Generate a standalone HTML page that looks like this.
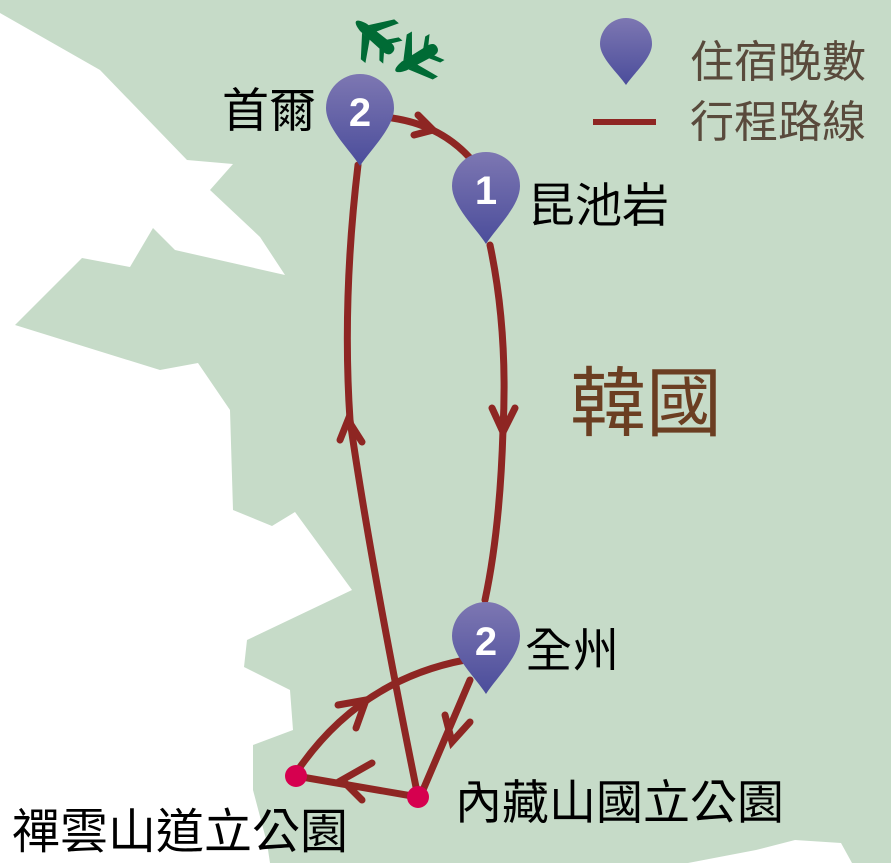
<!DOCTYPE html>
<html><head><meta charset="utf-8"><style>
body{margin:0;width:891px;height:863px;overflow:hidden;background:#c6dbc8}
svg{position:absolute;left:0;top:0}
text{font-family:"Liberation Sans","Noto Sans CJK TC",sans-serif}
</style></head><body>
<svg width="891" height="863" viewBox="0 0 891 863">
<defs>
<linearGradient id="pg" x1="0" y1="0" x2="0" y2="1"><stop offset="0" stop-color="#7d77b2"/><stop offset="1" stop-color="#4b4d9b"/></linearGradient>
<g id="pin"><path d="M0,56 C-10,40 -34,18 -34,-2 A34,34 0 1 1 34,-2 C34,18 10,40 0,56Z" fill="url(#pg)"/></g>
<g id="plane" fill="#006b35"><path d="M-22,0 C-22,-5 -18,-6 -14,-6 L16,-5 C22,-4 26,-2 26,0 C26,2 22,4 16,5 L-14,6 C-18,6 -22,5 -22,0Z"/><path d="M4,-5 L-8,-26 L-2,-26 L14,-5Z M4,5 L-8,26 L-2,26 L14,5Z M-14,-4 L-22,-15 L-17,-15 L-8,-4Z M-14,4 L-22,15 L-17,15 L-8,4Z"/></g>
</defs>
<rect width="891" height="863" fill="#c6dbc8"/>
<path fill="#fff" d="M0,13 L100,70 L187,160 L233,164 L210,190 L260,237 L285,275 L175,250 L153,228 L130,267 L82,258 L15,325 L160,370 L198,363 L230,410 L233,510 L272,526 L295,512 L352,590 L247,640 L244,667 L290,690 L293,730 L253,745 L253,790 L267,843 L270,863 L0,863Z"/>
<path fill="#fff" d="M688,863 L756,850 L795,840 L841,843 L852,863Z"/>
<g fill="none" stroke="#8e2623" stroke-width="7" stroke-linecap="round">
<path d="M392,118 Q440,125 470,158"/>
<path d="M490,245 Q508,330 503,430 Q500,530 485,600"/>
<path d="M470,680 L420,797"/>
<path d="M418,797 L296,776"/>
<path d="M298,770 Q360,680 465,660"/>
<path d="M418,797 Q370,560 350,420 Q342,300 358,165"/>
<path d="M418,115 L433,130 L414,135"/>
<path d="M492,408 L503,432 L515,408"/>
<path d="M445,715 L452,742 L470,722"/>
<path d="M372,763 L342,780 L362,800"/>
<path d="M338,705 L366,700 L356,728"/>
<path d="M340,440 L348,420 L362,442"/>
</g>
<circle cx="296" cy="776" r="11" fill="#d6004f"/>
<circle cx="418" cy="797" r="11" fill="#d6004f"/>
<use href="#plane" transform="translate(376,38) rotate(-140)"/>
<use href="#plane" transform="translate(418,58) rotate(150)"/>
<use href="#pin" x="360" y="110"/>
<use href="#pin" x="486" y="188"/>
<use href="#pin" x="486" y="638"/>
<path d="M626,85 C618,73 600,58 600,44 A26,26 0 1 1 652,44 C652,58 634,73 626,85Z" fill="url(#pg)"/>
<g fill="#fff" font-weight="bold" font-size="40" text-anchor="middle"><text x="360" y="126">2</text><text x="486" y="204">1</text><text x="486" y="655">2</text></g>
<line x1="593" y1="122" x2="656" y2="122" stroke="#8e2623" stroke-width="6"/>
<g fill="#594a3c" font-size="44"><text x="690" y="77">住宿晚數</text><text x="690" y="137">行程路線</text></g>
<text x="570" y="430" font-size="76" fill="#6b3e22">韓國</text>
<g fill="#000" font-size="47"><text x="222" y="127">首爾</text><text x="528" y="222">昆池岩</text><text x="525" y="667">全州</text><text x="455" y="819">內藏山國立公園</text></g>
<text x="12" y="848" font-size="48" fill="#000">禪雲山道立公園</text>
</svg>
</body></html>
